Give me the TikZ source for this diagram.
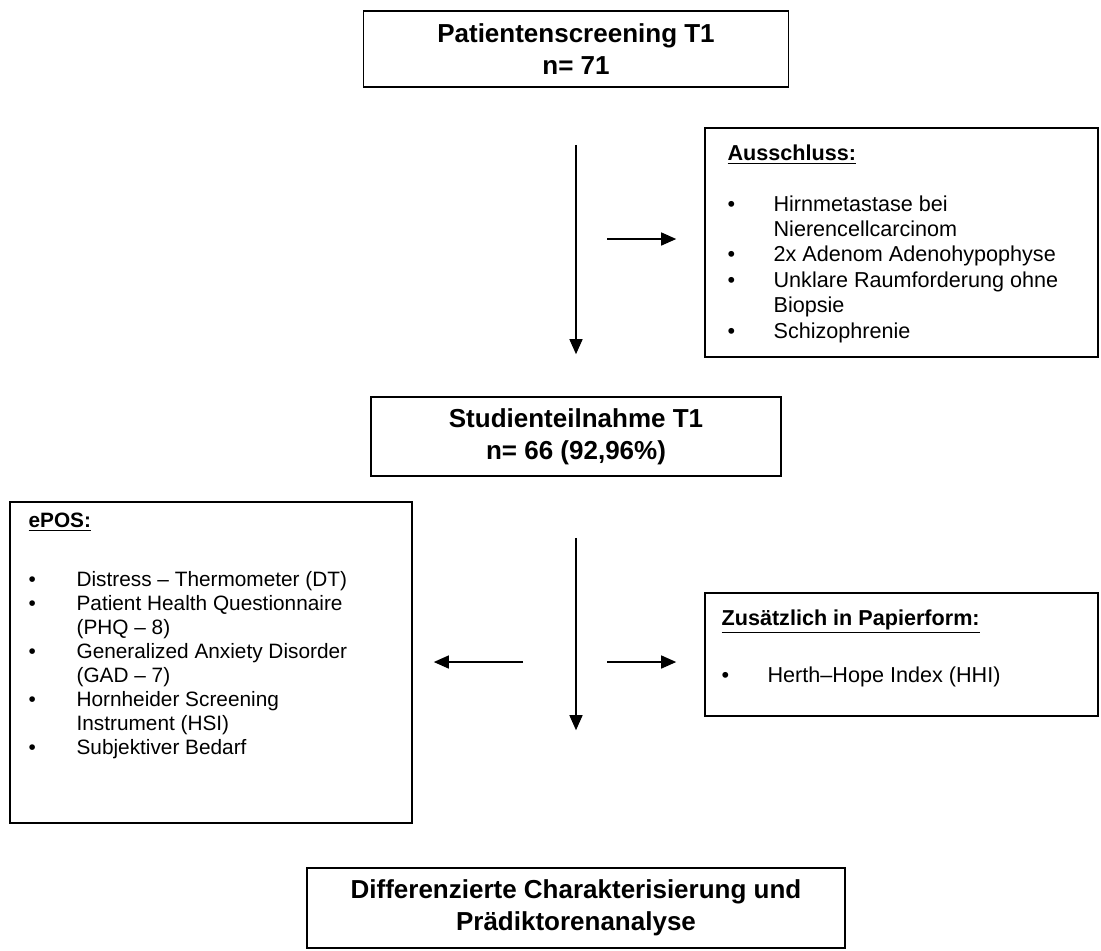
\documentclass[tikz,border=0pt]{standalone}
\usepackage{fontspec}
\setmainfont{Liberation Sans}
\usetikzlibrary{positioning,arrows.meta}
\newcommand{\headfont}{\fontsize{13}{16}\selectfont\bfseries}
\newcommand{\listfont}{\fontsize{10.8}{12.7}\selectfont}
\newcommand{\eposfont}{\fontsize{10.4}{12}\selectfont}

\begin{document}
\begin{tikzpicture}[x=0.5pt,y=-0.5pt]

        \useasboundingbox (0,0) rectangle (1101,950);

        \begin{scope}[every node/.style={draw,line width=0.8pt,align=center,font=\headfont}]
          \node[minimum width=212.5pt,minimum height=38pt]   (1) at (576,49)    {Patientenscreening T1\\n= 71};
          \node[minimum width=205pt,minimum height=39.5pt]   (2) at (576,436.5) {Studienteilnahme T1\\n= 66 (92,96\%)};
          \node[minimum width=269pt,minimum height=40pt]     (3) at (576,908)   {Differenzierte Charakterisierung und\\Prädiktorenanalyse};
          \node[minimum width=196.5pt,minimum height=114.5pt] (4) at (901.5,242.5) {};
          \node[minimum width=196.5pt,minimum height=61.5pt]  (5) at (901.5,654.5) {};
          \node[minimum width=201pt,minimum height=160.5pt]   (6) at (211,662.5)   {};
        \end{scope}

        \begin{scope}[every node/.style={inner sep=0pt,font=\listfont}]
          \node[below right=7.5pt and 11.5pt of 4.north west] (4t) {\begin{tabular}{@{}p{23pt}@{}l@{}}
            \multicolumn{2}{@{}l@{}}{\textbf{\underline{Ausschluss:}}}\\
            \\
            \textbullet & Hirnmetastase bei\\
                        & Nierencellcarcinom\\
            \textbullet & 2x Adenom Adenohypophyse\\
            \textbullet & Unklare Raumforderung ohne\\
                        & Biopsie\\
            \textbullet & Schizophrenie
          \end{tabular}};
          \node[below right=7.5pt and 8.5pt of 5.north west] (5t) {\begin{tabular}{@{}p{23pt}@{}l@{}}
            \multicolumn{2}{@{}l@{}}{\textbf{\underline{Zusätzlich in Papierform:}}}\\
            \\[2.6pt]
            \textbullet & Herth–Hope Index (HHI)
          \end{tabular}};
          \node[font=\eposfont,below right=4.5pt and 9.5pt of 6.north west] (6t) {\begin{tabular}{@{}p{24pt}@{}l@{}}
            \multicolumn{2}{@{}l@{}}{\textbf{\underline{ePOS:}}}\\
            \\[5.5pt]
            \textbullet & Distress – Thermometer (DT)\\
            \textbullet & Patient Health Questionnaire\\
                        & (PHQ – 8)\\
            \textbullet & Generalized Anxiety Disorder\\
                        & (GAD – 7)\\
            \textbullet & Hornheider Screening\\
                        & Instrument (HSI)\\
            \textbullet & Subjektiver Bedarf
          \end{tabular}};
        \end{scope}

        \coordinate (m1) at (576,239);
        \coordinate (m2) at (576,662);

        \begin{scope}[every edge/.style={draw,line width=0.7pt,-{Triangle[length=7.5pt,width=6.5pt]}}]
          \path (1)  edge[shorten <=28.5pt,shorten >=21pt]   (2);
          \path (2)  edge[shorten <=30.5pt,shorten >=68.5pt] (3);
          \path (m1) edge[shorten <=15.5pt,shorten >=14pt]   (m1 -| 4.west);
          \path (m2) edge[shorten <=15.5pt,shorten >=14pt]   (m2 -| 5.west);
          \path (m2) edge[shorten <=26.5pt,shorten >=10.5pt] (m2 -| 6.east);
        \end{scope}

      \end{tikzpicture}
\end{document}
